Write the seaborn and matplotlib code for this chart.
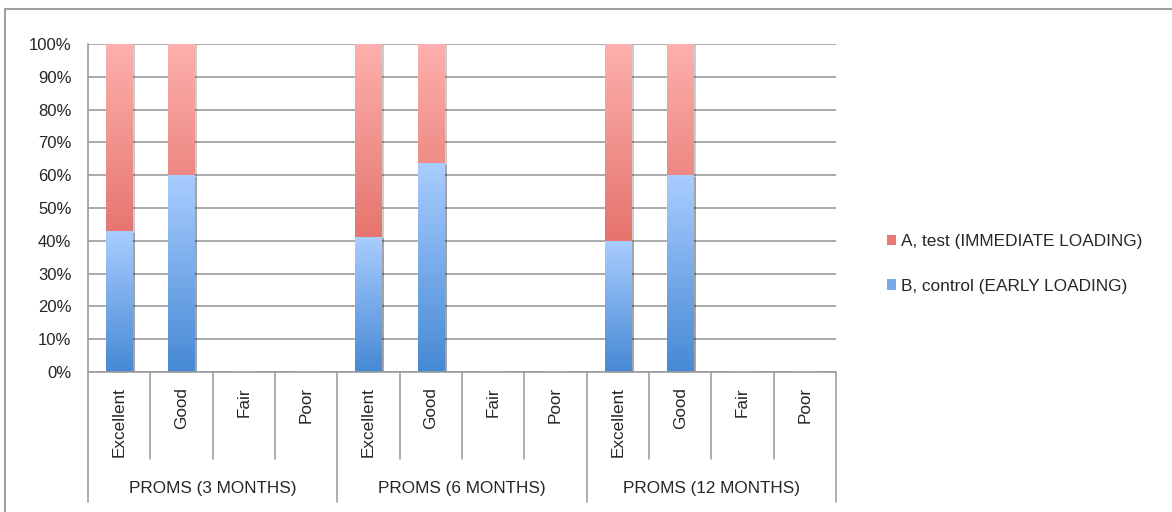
import numpy as np
import pandas as pd
import seaborn as sns
import matplotlib.pyplot as plt
from matplotlib.colors import LinearSegmentedColormap
from matplotlib.patches import Rectangle, Patch
from matplotlib import transforms
import matplotlib.patheffects as pe

# data
groups = ["PROMS (3 MONTHS)", "PROMS (6 MONTHS)", "PROMS (12 MONTHS)"]
ratings = ["Excellent", "Good", "Fair", "Poor"]
control_b = [42.9, 60.0, 0, 0, 41.2, 63.6, 0, 0, 40.0, 60.0, 0, 0]
test_a = [57.1, 40.0, 0, 0, 58.8, 36.4, 0, 0, 60.0, 40.0, 0, 0]
label_a = "A, test (IMMEDIATE LOADING)"
label_b = "B, control (EARLY LOADING)"

slots = [f"{g}|{r}" for g in groups for r in ratings]
df = pd.DataFrame({
    "slot": slots,
    "group": [g for g in groups for r in ratings],
    "rating": [r for g in groups for r in ratings],
    "b": control_b,
    "a": test_a,
})
df["total"] = df["a"] + df["b"]

sns.set_style("white")
plt.rcParams["font.family"] = ["Liberation Sans", "DejaVu Sans"]
plt.rcParams["font.size"] = 12

W, H = 1172, 512
fig = plt.figure(figsize=(W / 100, H / 100), dpi=100)
ax_l, ax_r, ax_t, ax_b = 88, 836, 44, 372
ax = fig.add_axes([ax_l / W, 1 - ax_b / H, (ax_r - ax_l) / W, (ax_b - ax_t) / H])

red_top, red_bot = "#fdb0ad", "#d54b41"
blue_top, blue_bot = "#a9cdff", "#4689d4"

shadow = [pe.SimplePatchShadow(offset=(2, -1), shadow_rgbFace="#000000", alpha=0.2), pe.Normal()]
sns.barplot(data=df, x="slot", y="total", order=slots, color=red_bot, width=0.42,
            errorbar=None, ax=ax, saturation=1)
sns.barplot(data=df, x="slot", y="b", order=slots, color=blue_bot, width=0.42,
            errorbar=None, ax=ax, saturation=1)

# gradient fills, each segment light at top and darker at bottom
cm_red = LinearSegmentedColormap.from_list("r", [red_bot, red_top])
cm_blue = LinearSegmentedColormap.from_list("b", [blue_bot, blue_top])
grad = np.linspace(0, 1, 256).reshape(-1, 1)
n = len(slots)
for i, p in enumerate(list(ax.patches)):
    h = p.get_height()
    if h <= 0:
        continue
    p.set_path_effects(shadow)
    p.set_edgecolor("none")
    x0, y0, w = p.get_x(), p.get_y(), p.get_width()
    cmap = cm_red if i < n else cm_blue
    im = ax.imshow(grad, extent=[x0, x0 + w, y0, y0 + h], origin="lower",
                   aspect="auto", cmap=cmap, zorder=p.get_zorder() + 0.1)
    im.set_clip_path(p)

ax.set_xlim(-0.5, n - 0.5)
ax.set_ylim(0, 100)
ax.set_yticks(np.arange(0, 101, 10))
ax.set_yticklabels([f"{v}%" for v in range(0, 101, 10)])
ax.yaxis.grid(True, color="#9c9c9c", lw=1.2)
ax.set_axisbelow(True)
ax.tick_params(axis="y", length=8, width=1.2, color="#9c9c9c", pad=4, labelsize=12)
ax.tick_params(axis="x", length=0, labelbottom=False)
ax.set_xlabel("")
ax.set_ylabel("")
for s in ["top", "right"]:
    ax.spines[s].set_visible(False)
for s in ["left", "bottom"]:
    ax.spines[s].set_color("#9c9c9c")
    ax.spines[s].set_linewidth(1.2)

# two-level category axis
ah = ax_b - ax_t
trans = transforms.blended_transform_factory(ax.transData, ax.transAxes)
inner_y = -(459 - ax_b) / ah
outer_y = -(502 - ax_b) / ah
for k in range(n + 1):
    xb = k - 0.5
    yend = outer_y if k % len(ratings) == 0 else inner_y
    ax.plot([xb, xb], [0, yend], transform=trans, color="#a0a0a0", lw=1.2, clip_on=False)
for k, r in enumerate(df["rating"]):
    ax.text(k, -(387 - ax_b) / ah, r, transform=trans, rotation=90, ha="center",
            va="top", fontsize=12.3)
for gi, g in enumerate(groups):
    xc = gi * len(ratings) + (len(ratings) - 1) / 2
    ax.text(xc, -(488 - ax_b) / ah, g, transform=trans, ha="center", va="center", fontsize=12.3)

# legend
handles = [Patch(facecolor="#e97772", edgecolor="none", label=label_a),
           Patch(facecolor="#76aaea", edgecolor="none", label=label_b)]
fig.legend(handles=handles, loc="center left", bbox_to_anchor=(878 / W, 1 - 264 / H),
           frameon=False, fontsize=12.4, handlelength=0.55, handleheight=0.55,
           handletextpad=0.3, labelspacing=1.7, borderpad=0)

# outer chart frame
fig.patches.append(Rectangle((5 / W, -0.05), 1.1, 1 - 9 / H + 0.05, transform=fig.transFigure,
                             fill=False, edgecolor="#a0a0a0", lw=1.5))

fig.savefig("out.png", dpi=100)
